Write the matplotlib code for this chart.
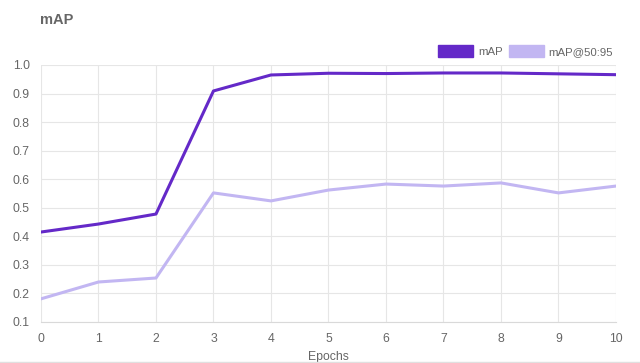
import matplotlib.pyplot as plt
from matplotlib.patches import Patch

epochs = [0, 1, 2, 3, 4, 5, 6, 7, 8, 9, 10]
map_vals = [0.415, 0.443, 0.478, 0.909, 0.965, 0.971, 0.970, 0.972, 0.972, 0.969, 0.966]
map5095_vals = [0.181, 0.240, 0.254, 0.552, 0.524, 0.562, 0.583, 0.576, 0.587, 0.552, 0.576]

dark = '#6429c8'
light = '#c2b6f2'
txt = '#666666'

plt.rcParams['font.family'] = ['Liberation Sans', 'DejaVu Sans']

fig = plt.figure(figsize=(6.4, 3.63), dpi=100)
ax = fig.add_axes([0.064, 0.113, 0.8985, 0.708])

ax.plot(epochs, map5095_vals, color=light, lw=2.2, solid_joinstyle='round', zorder=3)
ax.plot(epochs, map_vals, color=dark, lw=2.2, solid_joinstyle='round', zorder=4)

ax.set_xlim(0, 10)
ax.set_ylim(0.1, 1.0)
ax.set_xticks(epochs)
ax.set_yticks([0.1, 0.2, 0.3, 0.4, 0.5, 0.6, 0.7, 0.8, 0.9, 1.0])
ax.set_yticklabels(['0.1', '0.2', '0.3', '0.4', '0.5', '0.6', '0.7', '0.8', '0.9', '1.0'])
ax.grid(True, color='#e6e6e6', lw=0.8)
ax.set_axisbelow(True)
for s in ['top', 'right', 'left']:
    ax.spines[s].set_visible(False)
ax.spines['bottom'].set_color('#d9d9d9')
ax.tick_params(colors=txt, labelsize=8.8, length=0, pad=8)
ax.set_xlabel('Epochs', color=txt, fontsize=8.8, labelpad=4)

fig.text(0.062, 0.945, 'mAP', fontsize=10.5, fontweight='bold', color=txt, va='center')

handles = [Patch(facecolor=dark, edgecolor=dark, label='mAP'),
           Patch(facecolor=light, edgecolor=light, label='mAP@50:95')]
leg = fig.legend(handles=handles, loc='center right', bbox_to_anchor=(0.965, 0.86),
                 ncol=2, frameon=False, fontsize=8.2, handlelength=3.1, handleheight=1.3,
                 handletextpad=0.4, columnspacing=0.55, borderaxespad=0)
for t in leg.get_texts():
    t.set_color(txt)

fig.add_artist(plt.Line2D([0, 1], [0.004, 0.004], color='#e0e0e0', lw=1, transform=fig.transFigure))

fig.savefig('out.png', dpi=100)
